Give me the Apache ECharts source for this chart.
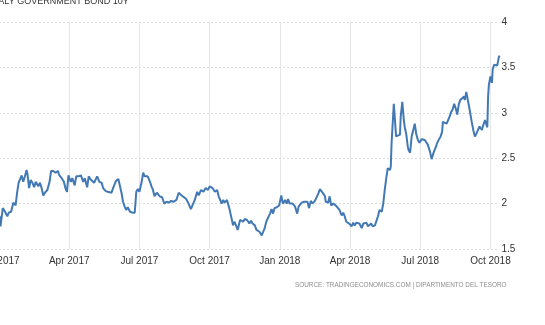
<!DOCTYPE html>
<html><head><meta charset="utf-8">
<script src="https://cdn.jsdelivr.net/npm/echarts@6/dist/echarts.min.js"></script>
<style>html,body{margin:0;padding:0;background:#fff;overflow:hidden}#c{width:545px;height:325px}</style>
</head><body><div id="c"></div>
<script>
const dates = [
'2017-01-02','2017-01-03','2017-01-06','2017-01-09','2017-01-12','2017-01-14','2017-01-17','2017-01-20','2017-01-23','2017-01-25','2017-01-27','2017-01-29','2017-01-31',
'2017-02-02','2017-02-04','2017-02-06','2017-02-07','2017-02-09','2017-02-11','2017-02-13','2017-02-15','2017-02-17','2017-02-20','2017-02-22','2017-02-24','2017-02-26','2017-02-28',
'2017-03-03','2017-03-06','2017-03-08','2017-03-11','2017-03-14','2017-03-17','2017-03-19','2017-03-22','2017-03-25','2017-03-27','2017-03-29','2017-03-31',
'2017-04-03','2017-04-05','2017-04-08','2017-04-10','2017-04-13','2017-04-16','2017-04-19','2017-04-21','2017-04-24','2017-04-26','2017-04-28','2017-04-30',
'2017-05-03','2017-05-07','2017-05-10','2017-05-13','2017-05-15','2017-05-18','2017-05-21','2017-05-26','2017-05-29',
'2017-06-01','2017-06-04','2017-06-06','2017-06-08','2017-06-10','2017-06-12','2017-06-14','2017-06-16','2017-06-19','2017-06-22','2017-06-25','2017-06-27','2017-06-29',
'2017-07-01','2017-07-04','2017-07-06','2017-07-08','2017-07-10','2017-07-12','2017-07-15','2017-07-17','2017-07-19','2017-07-21','2017-07-24','2017-07-26','2017-07-28','2017-07-31',
'2017-08-03','2017-08-06','2017-08-09','2017-08-12','2017-08-15','2017-08-19','2017-08-22','2017-08-26','2017-08-29',
'2017-09-01','2017-09-04','2017-09-07','2017-09-09','2017-09-12','2017-09-15','2017-09-17','2017-09-20','2017-09-23','2017-09-26','2017-09-29',
'2017-10-01','2017-10-05','2017-10-08','2017-10-11','2017-10-13','2017-10-17','2017-10-19','2017-10-21','2017-10-24','2017-10-27','2017-10-30',
'2017-11-01','2017-11-03','2017-11-05','2017-11-07','2017-11-10','2017-11-12','2017-11-14','2017-11-16','2017-11-19','2017-11-22','2017-11-24','2017-11-26','2017-11-29',
'2017-12-01','2017-12-03','2017-12-05','2017-12-08','2017-12-10','2017-12-12','2017-12-14','2017-12-16','2017-12-19','2017-12-21','2017-12-23','2017-12-25','2017-12-28','2017-12-30','2017-12-31',
'2018-01-03','2018-01-05','2018-01-08','2018-01-10','2018-01-12','2018-01-14','2018-01-18','2018-01-21','2018-01-24','2018-01-26','2018-01-30',
'2018-02-02','2018-02-04','2018-02-06','2018-02-08','2018-02-10','2018-02-12','2018-02-15','2018-02-17','2018-02-19','2018-02-21','2018-02-23','2018-02-25','2018-02-27','2018-02-28',
'2018-03-03','2018-03-05','2018-03-07','2018-03-10','2018-03-13','2018-03-15','2018-03-18','2018-03-21','2018-03-23','2018-03-25','2018-03-27','2018-03-29','2018-03-31',
'2018-04-03','2018-04-05','2018-04-07','2018-04-09','2018-04-11','2018-04-13','2018-04-16','2018-04-18','2018-04-20','2018-04-22','2018-04-24','2018-04-26','2018-04-28','2018-04-30',
'2018-05-03','2018-05-05','2018-05-07','2018-05-09','2018-05-12','2018-05-14','2018-05-16','2018-05-18','2018-05-20','2018-05-23','2018-05-24','2018-05-25','2018-05-28','2018-05-29','2018-05-31',
'2018-06-02','2018-06-05','2018-06-06','2018-06-08','2018-06-10','2018-06-11','2018-06-13','2018-06-15','2018-06-16','2018-06-18','2018-06-20','2018-06-22','2018-06-24','2018-06-26','2018-06-28','2018-06-30',
'2018-07-03','2018-07-05','2018-07-07','2018-07-09','2018-07-11','2018-07-14','2018-07-16','2018-07-17','2018-07-19','2018-07-22','2018-07-23','2018-07-26','2018-07-28','2018-07-30','2018-07-31',
'2018-08-02','2018-08-05','2018-08-07','2018-08-09','2018-08-11','2018-08-13','2018-08-15','2018-08-17','2018-08-19','2018-08-21','2018-08-23','2018-08-25','2018-08-28','2018-08-29','2018-08-31',
'2018-09-02','2018-09-04','2018-09-07','2018-09-09','2018-09-11','2018-09-13','2018-09-15','2018-09-17','2018-09-20','2018-09-22','2018-09-24','2018-09-27','2018-09-28','2018-09-29',
'2018-10-01','2018-10-03','2018-10-04','2018-10-06','2018-10-08','2018-10-10','2018-10-12','2018-10-13'
];
const yields = [
1.86,1.75,1.95,1.91,1.86,1.90,1.91,2.01,1.98,2.12,2.23,2.27,2.31,
2.24,2.30,2.37,2.33,2.17,2.26,2.23,2.18,2.24,2.19,2.23,2.17,2.09,2.12,
2.15,2.24,2.36,2.36,2.34,2.36,2.31,2.28,2.24,2.17,2.13,2.31,
2.24,2.28,2.20,2.30,2.30,2.31,2.24,2.28,2.18,2.30,2.27,2.29,
2.23,2.30,2.24,2.23,2.17,2.14,2.13,2.12,2.19,
2.25,2.27,2.29,2.12,2.02,1.97,1.93,1.96,1.91,1.90,1.90,2.13,2.16,
2.13,2.24,2.34,2.30,2.31,2.30,2.24,2.19,2.15,2.08,2.12,2.12,2.08,2.07,
2.00,2.02,2.01,2.03,2.02,2.04,2.12,2.09,2.07,
2.05,2.00,1.94,1.98,2.04,2.13,2.09,2.15,2.13,2.17,2.15,
2.19,2.17,2.13,2.15,2.08,2.00,2.04,2.01,2.04,1.95,1.84,
1.76,1.80,1.78,1.71,1.82,1.84,1.80,1.83,1.82,1.78,1.81,1.78,1.76,
1.71,1.72,1.69,1.65,1.64,1.73,1.80,1.82,1.89,1.94,1.89,1.95,1.96,1.94,1.98,
2.09,2.00,2.04,2.00,2.05,2.00,2.00,1.97,1.89,1.97,2.01,
2.02,2.00,2.02,1.95,2.03,2.00,2.03,2.02,2.11,2.16,2.15,2.11,2.08,2.02,
2.01,2.08,1.98,2.00,1.98,1.97,1.93,1.87,1.90,1.86,1.80,1.78,1.78,
1.75,1.79,1.76,1.79,1.80,1.78,1.73,1.78,1.78,1.79,1.75,1.76,1.78,1.75,
1.76,1.76,1.86,1.93,1.91,2.00,2.15,2.28,2.39,2.37,2.41,2.66,3.10,3.09,2.74,
2.76,2.76,2.96,3.12,2.92,2.85,2.77,2.63,2.59,2.56,2.74,2.76,2.88,2.76,2.70,2.67,
2.71,2.72,2.70,2.68,2.65,2.57,2.49,2.50,2.57,2.63,2.66,2.71,2.74,2.79,2.90,
2.88,2.88,2.87,2.96,3.01,3.04,3.10,3.05,2.98,3.09,3.14,3.16,3.18,3.14,3.23,
3.21,3.05,2.90,2.81,2.74,2.77,2.79,2.85,2.81,2.87,2.92,2.84,3.18,3.31,
3.40,3.33,3.48,3.53,3.55,3.52,3.61,3.63
];
const monthNames = ['Jan','Feb','Mar','Apr','May','Jun','Jul','Aug','Sep','Oct','Nov','Dec'];
const startYear = 2017;
const yMin = 1.5, yMax = 4, yStep = 0.5;
const titleText = 'ITALY GOVERNMENT BOND 10Y';
const sourceText = 'SOURCE: TRADINGECONOMICS.COM | DIPARTIMENTO DEL TESORO';

function toMonthIndex(s) {
  const p = s.split('-').map(Number);
  const dim = new Date(p[0], p[1], 0).getDate();
  return (p[0] - startYear) * 12 + (p[1] - 1) + (p[2] - 1) / dim;
}
const points = dates.map((d, i) => [toMonthIndex(d), yields[i]]);
const xMax = toMonthIndex(dates[dates.length - 1]);

const FONT = 'Liberation Sans, Arial, sans-serif';
const chart = echarts.init(document.getElementById('c'), null, {renderer: 'canvas'});
chart.setOption({
  animation: false,
  backgroundColor: '#ffffff',
  grid: {left: -1, right: 45.5, top: 22, bottom: 76, containLabel: false, outerBoundsMode: 'none'},
  xAxis: {
    type: 'value', min: 0, max: xMax, interval: 3,
    axisLine: {show: false}, axisTick: {show: false},
    axisLabel: {
      margin: 7, color: '#333', fontSize: 10, fontFamily: FONT,
      showMaxLabel: false, hideOverlap: false,
      formatter: function (v) {
        const r = Math.round(v);
        if (Math.abs(v - r) > 1e-6 || r % 3 !== 0) return '';
        return monthNames[r % 12] + ' ' + (startYear + Math.floor(r / 12));
      }
    },
    splitLine: {show: true, showMaxLine: false, lineStyle: {color: '#e6e6e6', width: 1}}
  },
  yAxis: {
    type: 'value', position: 'right', min: yMin, max: yMax, interval: yStep,
    axisLine: {show: false}, axisTick: {show: false},
    axisLabel: {margin: 2, color: '#333', fontSize: 10, fontFamily: FONT},
    splitLine: {show: true, lineStyle: {color: '#dcdcdc', width: 1, type: [2, 2]}}
  },
  series: [{
    type: 'line', data: points, showSymbol: false, clip: false,
    lineStyle: {color: '#4279b4', width: 2}, itemStyle: {color: '#4279b4'}
  }],
  graphic: [
    {type: 'text', x: -9, y: -3, style: {text: titleText, fontSize: 9, fill: '#333', fontFamily: FONT}},
    {type: 'text', x: 295, y: 282, style: {text: sourceText, fontSize: 6.4, fill: '#8c8c8c', fontFamily: FONT}}
  ]
});
</script>
</body></html>
